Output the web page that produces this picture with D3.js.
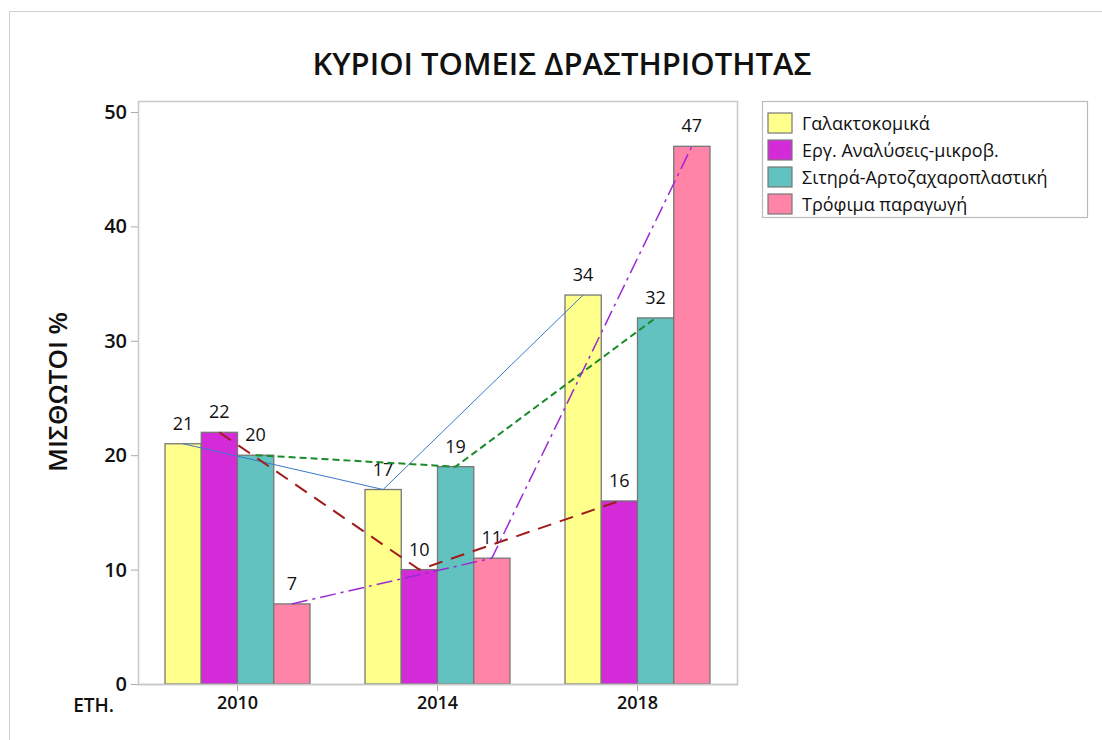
<!DOCTYPE html>
<html>
<head>
<meta charset="utf-8">
<script src="https://cdn.jsdelivr.net/npm/d3@7"></script>
<style>
  html, body { margin: 0; padding: 0; background: #fff; }
  svg { display: block; }
  text { font-family: "Open Sans", "Noto Sans", sans-serif; fill: #111; }
</style>
</head>
<body>
<svg id="chart" width="1102" height="740"></svg>
<script>
const years = ["2010", "2014", "2018"];
const seriesNames = ["Γαλακτοκομικά", "Εργ. Αναλύσεις-μικροβ.", "Σιτηρά-Αρτοζαχαροπλαστική", "Τρόφιμα παραγωγή"];
const galaktokomika = [21, 17, 34];
const analyseis = [22, 10, 16];
const sitira = [20, 19, 32];
const trofima = [7, 11, 47];
const yTicks = [0, 10, 20, 30, 40, 50];
const barColors = ["#ffff8c", "#d42bd8", "#62c2c0", "#ff84a8"];
const lineColors = ["#3a78c8", "#a01c1c", "#1a8a2a", "#9a2ad0"];
const lineDash = [null, "14,9", "7,4", "16,5,3,5"];
const lineWidth = [1, 2, 2, 1.5];

const allValues = [galaktokomika, analyseis, sitira, trofima];
const data = years.map((y, i) => ({ year: y, values: seriesNames.map((s, j) => ({ series: s, idx: j, value: allValues[j][i] })) }));

const svg = d3.select("#chart");
const L = 138, R = 737, T = 101, B = 684;

// outer frame lines
svg.append("line").attr("x1", 9.5).attr("y1", 11.5).attr("x2", 1102).attr("y2", 11.5).attr("stroke", "#cfcfcf");
svg.append("line").attr("x1", 9.5).attr("y1", 11.5).attr("x2", 9.5).attr("y2", 740).attr("stroke", "#cfcfcf");

const x0 = d3.scaleBand().domain(years).range([L, R]).paddingInner(0.275).paddingOuter(0.135);
const x1 = d3.scaleBand().domain(seriesNames).range([0, x0.bandwidth()]);
const y = d3.scaleLinear().domain([0, 50]).range([B, 112]);

// plot frame
svg.append("rect").attr("x", L + 0.5).attr("y", T + 0.5).attr("width", R - L).attr("height", B - T)
  .attr("fill", "none").attr("stroke", "#c8c8c8").attr("stroke-width", 1.5);

// Y axis
const yAxis = svg.append("g").attr("transform", `translate(${L},0)`)
  .call(d3.axisLeft(y).tickValues(yTicks).tickSize(7).tickPadding(4));
yAxis.select(".domain").remove();
yAxis.selectAll(".tick line").attr("stroke", "#aaa");
yAxis.selectAll(".tick text").style("font-size", "20px").style("font-weight", "600").attr("fill", "#111");

// X axis
const xAxis = svg.append("g").attr("transform", `translate(0,${B})`)
  .call(d3.axisBottom(x0).tickSize(7).tickPadding(5));
xAxis.select(".domain").remove();
xAxis.selectAll(".tick line").attr("stroke", "#aaa");
xAxis.selectAll(".tick text").style("font-size", "18px").style("font-weight", "600").attr("fill", "#111");

// bars
const groups = svg.append("g").selectAll("g").data(data).join("g")
  .attr("transform", d => `translate(${x0(d.year)},0)`);
groups.selectAll("rect").data(d => d.values).join("rect")
  .attr("x", d => x1(d.series))
  .attr("y", d => y(d.value))
  .attr("width", x1.bandwidth())
  .attr("height", d => y(0) - y(d.value))
  .attr("fill", d => barColors[d.idx])
  .attr("stroke", "#777").attr("stroke-width", 1.3);

// data labels
groups.selectAll("text.lbl").data(d => d.values).join("text").attr("class", "lbl")
  .attr("x", d => x1(d.series) + x1.bandwidth() / 2)
  .attr("y", d => y(d.value) - 14)
  .attr("text-anchor", "middle")
  .style("font-size", "18px")
  .attr("fill", "#222")
  .text(d => d.value);

// connecting lines
seriesNames.forEach((s, j) => {
  const line = d3.line()
    .x((v, i) => x0(years[i]) + x1(s) + x1.bandwidth() / 2)
    .y(v => y(v));
  svg.append("path").datum(allValues[j])
    .attr("d", line)
    .attr("fill", "none")
    .attr("stroke", lineColors[j])
    .attr("stroke-width", lineWidth[j])
    .attr("stroke-dasharray", lineDash[j]);
});

// bottom axis line
svg.append("line").attr("x1", L).attr("x2", R + 1).attr("y1", B + 0.5).attr("y2", B + 0.5).attr("stroke", "#c8c8c8").attr("stroke-width", 1.5);

// title
svg.append("text").attr("x", 562).attr("y", 75).attr("text-anchor", "middle")
  .style("font-size", "31px").style("font-weight", "600").text("ΚΥΡΙΟΙ ΤΟΜΕΙΣ ΔΡΑΣΤΗΡΙΟΤΗΤΑΣ");

// y label
svg.append("text").attr("transform", "translate(67,392) rotate(-90)").attr("text-anchor", "middle")
  .style("font-size", "26px").style("font-weight", "600").text("ΜΙΣΘΩΤΟΙ %");

// x "ΕΤΗ."
svg.append("text").attr("x", 114).attr("y", 712).attr("text-anchor", "end")
  .style("font-size", "19px").style("font-weight", "600").text("ΕΤΗ.");

// legend
const lg = svg.append("g");
lg.append("rect").attr("x", 762.5).attr("y", 101.5).attr("width", 325).attr("height", 116)
  .attr("fill", "#fff").attr("stroke", "#bbb").attr("stroke-width", 1.2);
const items = lg.selectAll("g").data(seriesNames).join("g")
  .attr("transform", (d, i) => `translate(768,${113 + i * 27})`);
items.append("rect").attr("width", 24).attr("height", 20)
  .attr("fill", (d, i) => barColors[i]).attr("stroke", "#777").attr("stroke-width", 1.2);
items.append("text").attr("x", 34).attr("y", 17).style("font-size", "18px").attr("fill", "#111").text(d => d);
</script>
</body>
</html>
